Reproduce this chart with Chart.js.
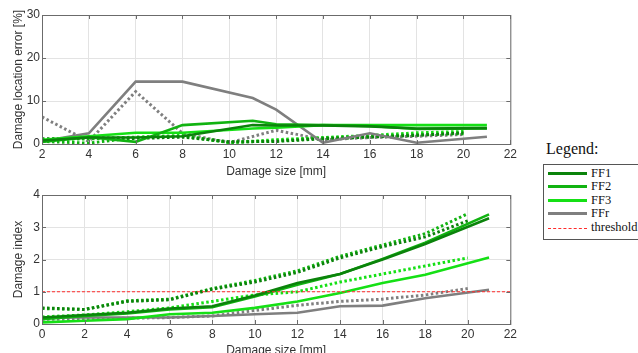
<!DOCTYPE html>
<html>
<head>
<meta charset="utf-8">
<script src="https://cdn.jsdelivr.net/npm/chart.js@4"></script>
<style>
  body { margin: 0; background: #fff; width: 638px; height: 353px; overflow: hidden; position: relative; }
  #wrap1 { position: absolute; left: 0; top: 0; width: 520px; height: 179px; }
  #wrap2 { position: absolute; left: 0; top: 180px; width: 520px; height: 178px; }
  #legendTitle { position: absolute; left: 546px; top: 140px; font-family: "Liberation Serif", "DejaVu Serif", serif; font-size: 16px; color: #111; }
  #legend { position: absolute; left: 543px; top: 164px; width: 98px; height: 76px; border: 1px solid #555; box-sizing: border-box;
            font-family: "Liberation Serif", "DejaVu Serif", serif; font-size: 12.5px; color: #111; padding-top: 2px; }
  .row { height: 13.4px; line-height: 13.4px; position: relative; }
  .sw { position: absolute; left: 4px; top: 6px; width: 39px; height: 0; }
  .lbl { position: absolute; left: 47px; top: 0; }
</style>
</head>
<body>
<div id="wrap1"><canvas id="chart1"></canvas></div>
<div id="wrap2"><canvas id="chart2"></canvas></div>
<div id="legendTitle">Legend:</div>
<div id="legend"></div>
<script>
// series names and colours
var names = ['FF1', 'FF2', 'FF3', 'FFr'];
var colors = ['#0b830b', '#11b311', '#15e015', '#7f7f7f'];

// top chart: damage location error [%]
var topSolidX = [2, 4, 6, 8, 11, 12, 14, 16, 18, 21];
var topSolid = [
    [0.8, 1.5, 1.5, 1.8, 4.4, 4.3, 4.3, 4.1, 3.6, 3.7],
    [0.5, 1.6, 0.5, 4.4, 5.4, 4.6, 4.4, 4.2, 3.5, 3.6],
    [1.0, 1.8, 2.6, 2.6, 3.6, 3.8, 4.4, 4.4, 4.4, 4.4],
    [0.6, 2.5, 14.5, 14.5, 10.7, 8.0, 0.3, 2.5, 0.3, 1.7]
];
var topDotX = [2, 4, 6, 8, 10, 12, 14, 16, 18, 20];
var topDot = [
    [1.2, 1.4, 1.3, 1.6, 0.5, 0.6, 1.2, 1.6, 2.0, 2.6],
    [0.6, 0.2, 1.5, 1.8, 0.4, 0.7, 1.4, 1.8, 2.2, 2.4],
    [1.0, 1.2, 1.6, 2.0, 0.3, 1.0, 1.5, 2.0, 2.6, 2.9],
    [6.3, 0.6, 12.2, 2.5, 0.3, 3.2, 1.0, 1.5, 1.8, 2.2]
];

// bottom chart: damage index
var botSolidX = [0, 2, 4, 6, 8, 10, 12, 14, 16, 18, 21];
var botSolid = [
    [0.2, 0.28, 0.35, 0.48, 0.55, 0.88, 1.27, 1.55, 2.0, 2.48, 3.28],
    [0.15, 0.25, 0.33, 0.45, 0.52, 0.85, 1.22, 1.55, 2.02, 2.52, 3.4],
    [0.05, 0.1, 0.15, 0.3, 0.35, 0.5, 0.7, 0.96, 1.27, 1.53, 2.06],
    [0.2, 0.2, 0.2, 0.2, 0.25, 0.3, 0.35, 0.55, 0.57, 0.8, 1.06]
];
var botDotX = [0, 2, 4, 6, 8, 10, 12, 14, 16, 18, 20];
var botDot = [
    [0.5, 0.45, 0.7, 0.75, 1.08, 1.3, 1.6, 2.05, 2.4, 2.7, 3.2],
    [0.48, 0.45, 0.72, 0.77, 1.1, 1.35, 1.65, 2.1, 2.45, 2.8, 3.42],
    [0.22, 0.28, 0.38, 0.5, 0.7, 0.9, 1.0, 1.3, 1.55, 1.8, 2.05],
    [0.15, 0.15, 0.18, 0.2, 0.25, 0.42, 0.58, 0.7, 0.77, 0.9, 1.1]
];
var thresholdX = [0, 22];
var thresholdY = [1, 1];

function pts(xs, ys) {
    return xs.map(function (x, i) { return { x: x, y: ys[i] }; });
}

function buildSets(solidX, solid, dotX, dot) {
    var sets = [];
    for (var i = 0; i < names.length; i++) {
        sets.push({ label: names[i] + ' dotted', data: pts(dotX, dot[i]), borderColor: colors[i],
            borderWidth: 3, borderDash: [2.5, 2.5], pointRadius: 0, tension: 0, order: 2 });
    }
    for (var j = 0; j < names.length; j++) {
        sets.push({ label: names[j], data: pts(solidX, solid[j]), borderColor: colors[j],
            borderWidth: 2.6, pointRadius: 0, tension: 0, order: 1 });
    }
    return sets;
}

// box around plot area with inward ticks (MATLAB style)
var boxPlugin = {
    id: 'box',
    afterDraw: function (chart) {
        var a = chart.chartArea, c = chart.ctx;
        c.save();
        c.strokeStyle = '#6b6b6b';
        c.lineWidth = 1;
        c.strokeRect(a.left + 0.5, a.top + 0.5, a.right - a.left, a.bottom - a.top);
        var xs = chart.scales.x, ys = chart.scales.y;
        c.beginPath();
        xs.ticks.forEach(function (t) {
            var p = Math.round(xs.getPixelForValue(t.value)) + 0.5;
            c.moveTo(p, a.bottom); c.lineTo(p, a.bottom - 4);
            c.moveTo(p, a.top); c.lineTo(p, a.top + 4);
        });
        ys.ticks.forEach(function (t) {
            var p = Math.round(ys.getPixelForValue(t.value)) + 0.5;
            c.moveTo(a.left, p); c.lineTo(a.left + 4, p);
            c.moveTo(a.right, p); c.lineTo(a.right - 4, p);
        });
        c.stroke();
        c.restore();
    }
};

function makeOptions(xmin, ymax, ystep, ytitle, xh) {
    return {
        responsive: true,
        maintainAspectRatio: false,
        animation: false,
        layout: { padding: { top: 15, right: 8, left: 11, bottom: 0 } },
        plugins: { legend: { display: false }, tooltip: { enabled: false } },
        scales: {
            x: {
                type: 'linear', min: xmin, max: 22,
                ticks: { stepSize: 2, color: '#333', font: { family: 'Liberation Sans', size: 12 }, padding: 3 },
                grid: { color: '#e3e3e3', drawTicks: false },
                border: { display: false },
                title: { display: true, text: 'Damage size [mm]', color: '#333',
                    font: { family: 'Liberation Sans', size: 12 }, padding: { top: 0, bottom: 0 } },
                afterFit: function (s) { s.height = xh; }
            },
            y: {
                min: 0, max: ymax,
                ticks: { stepSize: ystep, color: '#333', font: { family: 'Liberation Sans', size: 12 }, padding: 2 },
                grid: { color: '#e3e3e3', drawTicks: false },
                border: { display: false },
                title: { display: true, text: ytitle, color: '#333',
                    font: { family: 'Liberation Sans', size: 12 }, padding: { top: 0, bottom: 2 } },
                afterFit: function (s) { s.width = 31; }
            }
        }
    };
}

var ctx1 = document.getElementById('chart1').getContext('2d');
var ctx2 = document.getElementById('chart2').getContext('2d');

var chart1 = new Chart(ctx1, {
    type: 'line',
    data: { datasets: buildSets(topSolidX, topSolid, topDotX, topDot) },
    options: makeOptions(2, 30, 10, 'Damage location error [%]', 35),
    plugins: [boxPlugin]
});

var sets2 = buildSets(botSolidX, botSolid, botDotX, botDot);
sets2.push({ label: 'threshold', data: pts(thresholdX, thresholdY), borderColor: '#ff2a2a',
    borderWidth: 1, borderDash: [3, 2], pointRadius: 0, order: 0 });

var chart2 = new Chart(ctx2, {
    type: 'line',
    data: { datasets: sets2 },
    options: makeOptions(0, 4, 1, 'Damage index', 34),
    plugins: [boxPlugin]
});

// legend
var leg = document.getElementById('legend');
names.concat(['threshold']).forEach(function (n, i) {
    var row = document.createElement('div');
    row.className = 'row';
    var sw = document.createElement('div');
    sw.className = 'sw';
    if (i < names.length) {
        sw.style.borderTop = '3px solid ' + colors[i];
        sw.style.top = '5px';
    } else {
        sw.style.borderTop = '1px dashed #ff2a2a';
        sw.style.top = '7px';
    }
    var lb = document.createElement('span');
    lb.className = 'lbl';
    lb.textContent = n;
    row.appendChild(sw);
    row.appendChild(lb);
    leg.appendChild(row);
});
</script>
</body>
</html>
